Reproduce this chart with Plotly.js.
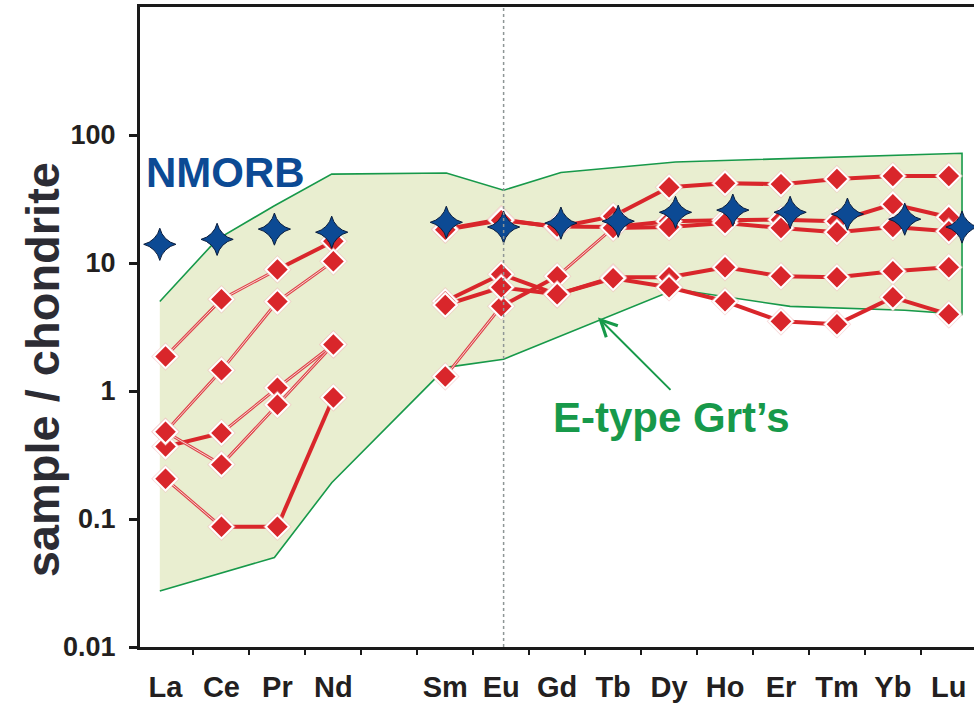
<!DOCTYPE html>
<html>
<head>
<meta charset="utf-8">
<script src="https://cdn.plot.ly/plotly-3.0.1.min.js"></script>
<style>
  html, body { margin: 0; padding: 0; background: #ffffff; }
  #chart { width: 974px; height: 707px; }
</style>
</head>
<body>
<div id="chart"></div>
<script>
// Rare earth elements in atomic order; Pm is kept as an empty slot
const elements = ['La', 'Ce', 'Pr', 'Nd', 'Pm', 'Sm', 'Eu', 'Gd', 'Tb', 'Dy', 'Ho', 'Er', 'Tm', 'Yb', 'Lu'];
const tickLabels = ['La', 'Ce', 'Pr', 'Nd', '', 'Sm', 'Eu', 'Gd', 'Tb', 'Dy', 'Ho', 'Er', 'Tm', 'Yb', 'Lu'];

// N-MORB reference pattern (sample / chondrite)
const nmorb = [14.0, 15.3, 18.4, 17.4, null, 20.8, 19.1, 20.5, 21.2, 24.9, 25.9, 24.9, 24.1, 22.0, 19.1];

// E-type garnet field: upper and lower envelope vertices
const fieldUpper = [5.0, 15.3, 28.0, 49.5, null, 50.5, 37.0, 51.0, null, 61.5, null, null, null, null, 72.0];
const fieldLower = [0.0274, null, 0.050, 0.192, null, 1.53, 1.77, null, null, 6.24, null, 4.58, null, 4.27, 3.97];

// Garnet analyses (sample / chondrite)
const grtA = [1.86, 5.2, 8.9, 14.8, null, 18.4, 22.0, 19.0, 23.2, 39.0, 42.0, 41.3, 45.3, 47.8, 47.8];
const grtB = [0.48, 1.45, 5.0, 10.3, null, 18.2, 21.6, 19.3, 19.1, 21.2, 21.6, 21.8, 21.2, 28.8, 22.8];
const grtC = [0.368, 0.47, 1.06, 2.31, null, 1.30, 4.59, 7.87, 18.8, 19.1, 20.5, 18.8, 17.4, 19.1, 17.7];
const grtD = [0.48, 0.266, 0.78, 2.31, null, 5.02, 8.16, 5.69, 7.73, 7.73, 9.27, 7.87, 7.73, 8.61, 9.27];
const grtE = [0.206, 0.087, 0.087, 0.89, null, 4.70, 6.46, 5.69, 7.60, 6.46, 5.02, 3.50, 3.32, 5.39, 3.97];

// Links drawn as thin double lines (all other links are solid)
const grtAThin = ['La-Ce', 'Ce-Pr'];
const grtBThin = ['La-Ce', 'Ce-Pr', 'Pr-Nd'];
const grtCThin = ['Ce-Pr', 'Pr-Nd', 'Sm-Eu', 'Gd-Tb'];
const grtDThin = ['La-Ce', 'Ce-Pr', 'Pr-Nd'];
const grtEThin = ['La-Ce'];

const series = [
  [grtA, grtAThin], [grtB, grtBThin], [grtC, grtCThin], [grtD, grtDThin], [grtE, grtEThin]
];

const idx = elements.map((_, i) => i);

const RED = '#d9262b';
const GREEN = '#17994a';
const BLUE = '#0c4a94';

// Collect consecutive links of one style, separated by gaps
function links(values, thinList, wantThin) {
  const x = [], y = [];
  for (let i = 0; i < values.length - 1; i++) {
    const a = values[i], b = values[i + 1];
    if (a == null || b == null) continue;
    const isThin = thinList.includes(elements[i] + '-' + elements[i + 1]);
    if (isThin !== wantThin) continue;
    x.push(i, i + 1, null);
    y.push(a, b, null);
  }
  return { x, y };
}

const traces = [];

// Field outline: upper edge left to right, lower edge back
const fx = [], fy = [];
fieldUpper.forEach((v, i) => { if (v != null) { fx.push(i); fy.push(v); } });
for (let i = fieldLower.length - 1; i >= 0; i--) {
  if (fieldLower[i] != null) { fx.push(i); fy.push(fieldLower[i]); }
}
traces.push({
  type: 'scatter', mode: 'lines', x: fx, y: fy, xaxis: 'x', yaxis: 'y',
  fill: 'toself', fillcolor: '#e9eed0',
  line: { color: GREEN, width: 1.6 }, hoverinfo: 'skip'
});

// Sample links
series.forEach(([vals, thin]) => {
  const solid = links(vals, thin, false);
  traces.push({
    type: 'scatter', mode: 'lines', x: solid.x, y: solid.y, xaxis: 'x2', yaxis: 'y',
    line: { color: RED, width: 4 }, connectgaps: false, hoverinfo: 'skip'
  });
  const fine = links(vals, thin, true);
  traces.push({
    type: 'scatter', mode: 'lines', x: fine.x, y: fine.y, xaxis: 'x2', yaxis: 'y',
    line: { color: '#df4449', width: 3 }, connectgaps: false, hoverinfo: 'skip'
  });
  traces.push({
    type: 'scatter', mode: 'lines', x: fine.x, y: fine.y, xaxis: 'x2', yaxis: 'y',
    line: { color: '#f7d3d3', width: 1 }, connectgaps: false, hoverinfo: 'skip'
  });
});

// Sample markers, each with a faint pink halo behind its white rim
series.forEach(([vals]) => {
  traces.push({
    type: 'scatter', mode: 'markers', x: idx, y: vals, xaxis: 'x2', yaxis: 'y',
    marker: { symbol: 'diamond', size: 22, color: 'rgba(240,190,190,0.55)', line: { width: 0 } },
    hoverinfo: 'skip'
  });
  traces.push({
    type: 'scatter', mode: 'markers', x: idx, y: vals, xaxis: 'x2', yaxis: 'y',
    marker: { symbol: 'diamond', size: 18, color: RED, line: { color: '#ffffff', width: 2 } },
    hoverinfo: 'skip'
  });
});

// N-MORB stars
traces.push({
  type: 'scatter', mode: 'markers', x: idx, y: nmorb, xaxis: 'x3', yaxis: 'y',
  marker: { symbol: 'star-diamond', size: 23, color: BLUE, line: { color: '#0a1d3d', width: 1 } },
  hoverinfo: 'skip'
});

const FONT = 'Liberation Sans, Arial, Helvetica, sans-serif';
const INK = '#231f20';

// Scale of the reference pattern and field
const refRange = [-0.3455, 14.209];
// Scale of the sample analyses and element labels
const mainRange = [-0.456, 14.45];

const labelIdx = idx.filter(i => tickLabels[i] !== '');

const layout = {
  width: 974, height: 707,
  margin: { l: 140, r: 0, t: 7, b: 60, pad: 0 },
  paper_bgcolor: '#ffffff', plot_bgcolor: '#ffffff',
  showlegend: false,
  font: { family: FONT, color: INK },
  xaxis: { range: refRange, visible: false, fixedrange: true },
  xaxis2: {
    overlaying: 'x', anchor: 'y', side: 'bottom', range: mainRange,
    tickmode: 'array', tickvals: labelIdx, ticktext: labelIdx.map(i => tickLabels[i]),
    ticks: '', showgrid: false, zeroline: false,
    showline: true, linecolor: '#1a1a1a', linewidth: 3, mirror: true,
    tickfont: { family: FONT, size: 29, weight: 'bold', color: INK },
    ticklabelstandoff: 12,
    minor: { tickmode: 'linear', tick0: -0.5, dtick: 1, ticks: 'outside', ticklen: 5, tickwidth: 2, tickcolor: '#1a1a1a', showgrid: false },
    fixedrange: true
  },
  xaxis3: { overlaying: 'x', anchor: 'y', range: refRange, visible: false, fixedrange: true },
  yaxis: {
    type: 'log', range: [-2, 3],
    tickmode: 'array', tickvals: [0.01, 0.1, 1, 10, 100], ticktext: ['0.01', '0.1', '1', '10', '100'],
    ticks: 'outside', ticklen: 8, tickwidth: 3, tickcolor: '#1a1a1a',
    showline: true, linecolor: '#1a1a1a', linewidth: 3,
    showgrid: false, zeroline: false,
    tickfont: { family: FONT, size: 27, weight: 'bold', color: INK },
    ticklabelstandoff: 8,
    fixedrange: true
  },
  shapes: [
    {
      type: 'line', xref: 'x3', yref: 'paper', x0: 6, x1: 6, y0: 0, y1: 1,
      line: { color: '#8e9696', width: 1.5, dash: 'dot' }, layer: 'above'
    }
  ],
  annotations: [
    {
      text: 'NMORB', xref: 'paper', yref: 'paper', x: 0.1031, y: 0.742,
      xanchor: 'center', yanchor: 'middle', showarrow: false,
      font: { family: FONT, size: 42, weight: 'bold', color: BLUE }
    },
    {
      text: 'E-type Grt\u2019s', xref: 'paper', yref: 'paper', x: 0.6367, y: 0.358,
      xanchor: 'center', yanchor: 'middle', showarrow: false,
      font: { family: FONT, size: 42, weight: 'bold', color: GREEN }
    },
    {
      text: '', xref: 'x2', yref: 'y', x: 7.73, y: 0.575, ax: 74, ay: 74,
      showarrow: true, arrowhead: 5, arrowsize: 1.6, arrowwidth: 2, arrowcolor: GREEN
    },
    {
      text: 'sample / chondrite', xref: 'paper', yref: 'paper', x: -0.117, y: 0.433,
      xanchor: 'center', yanchor: 'middle', showarrow: false, textangle: -90,
      font: { family: FONT, size: 47, weight: 'bold', color: '#2c2c34' }
    }
  ]
};

Plotly.newPlot('chart', traces, layout, { staticPlot: true, displayModeBar: false });
</script>
</body>
</html>
